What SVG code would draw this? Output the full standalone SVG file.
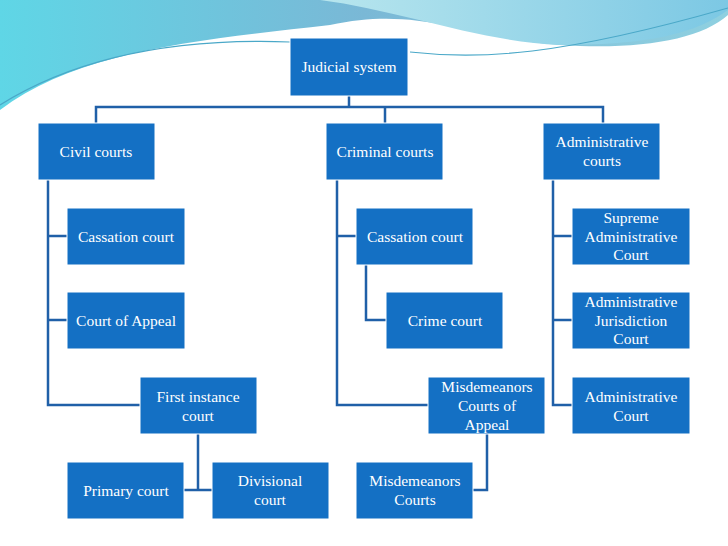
<svg xmlns="http://www.w3.org/2000/svg" width="728" height="546" viewBox="0 0 728 546">
<defs>
<linearGradient id="w1" x1="0" y1="0" x2="1" y2="0"><stop offset="0" stop-color="#5fd6e6"/><stop offset="0.5" stop-color="#7ab8d6"/><stop offset="1" stop-color="#8fd0e0"/></linearGradient>
<linearGradient id="w2" x1="0" y1="0" x2="1" y2="0"><stop offset="0" stop-color="#b8e6ee"/><stop offset="1" stop-color="#7cc8e4"/></linearGradient>
<style>
.n rect{fill:#1470c4;stroke:#fff;stroke-width:1}
.n text{font-family:"Liberation Serif",serif;font-size:15.5px;fill:#fff;text-anchor:middle}
.c path{fill:none;stroke:#2060a8;stroke-width:2.5}
</style>
</defs>
<rect width="728" height="546" fill="#ffffff"/>
<path d="M0,0 H728 V15 C700,40 640,50 560,45 C470,38 420,5 330,25 C200,40 80,50 0,110 Z" fill="url(#w1)"/>
<path d="M320,0 H728 V10 C700,30 660,45 560,45 C480,42 400,10 320,0 Z" fill="url(#w2)"/>
<path d="M0,105 C80,55 180,38 290,42 M410,52 C480,60 560,56 728,8" fill="none" stroke="#4aa8c8" stroke-width="1.2"/>
<g class="c">
<path d="M349,96 V107 M96,123 V107 H603 V123 M385,107 V123"/>
<path d="M48,180 V405 H140 M48,236 H67 M48,320 H67"/>
<path d="M198,434 V490 M184,490 H212"/>
<path d="M337,180 V405 H428 M337,236 H356 M366,265 V320 H386"/>
<path d="M487,434 V490 H473"/>
<path d="M553,180 V405 H572 M553,236 H572 M553,320 H572"/>
</g>
<g id="judicial" class="n"><rect x="290" y="38" width="118" height="58"/><text x="349" y="72">Judicial system</text></g>
<g id="civil" class="n"><rect x="38" y="123" width="117" height="57"/><text x="96" y="157">Civil courts</text></g>
<g id="criminal" class="n"><rect x="326" y="123" width="117" height="57"/><text x="385" y="157">Criminal courts</text></g>
<g id="admin" class="n"><rect x="543" y="123" width="117" height="57"/><text x="602" y="147">Administrative</text><text x="602" y="166">courts</text></g>
<g id="cass1" class="n"><rect x="67" y="208" width="118" height="57"/><text x="126" y="242">Cassation court</text></g>
<g id="appeal" class="n"><rect x="67" y="292" width="118" height="57"/><text x="126" y="326">Court of Appeal</text></g>
<g id="first" class="n"><rect x="140" y="377" width="117" height="57"/><text x="198" y="402">First instance</text><text x="198" y="421">court</text></g>
<g id="primary" class="n"><rect x="67" y="462" width="117" height="57"/><text x="126" y="496">Primary court</text></g>
<g id="divisional" class="n"><rect x="212" y="462" width="117" height="57"/><text x="270" y="486">Divisional</text><text x="270" y="505">court</text></g>
<g id="cass2" class="n"><rect x="356" y="208" width="117" height="57"/><text x="415" y="242">Cassation court</text></g>
<g id="crime" class="n"><rect x="386" y="292" width="117" height="57"/><text x="445" y="326">Crime court</text></g>
<g id="misapp" class="n"><rect x="428" y="377" width="117" height="57"/><text x="487" y="392">Misdemeanors</text><text x="487" y="411">Courts of</text><text x="487" y="430">Appeal</text></g>
<g id="mis" class="n"><rect x="356" y="462" width="117" height="57"/><text x="415" y="486">Misdemeanors</text><text x="415" y="505">Courts</text></g>
<g id="supreme" class="n"><rect x="572" y="208" width="118" height="57"/><text x="631" y="223">Supreme</text><text x="631" y="242">Administrative</text><text x="631" y="260">Court</text></g>
<g id="adjur" class="n"><rect x="572" y="292" width="118" height="57"/><text x="631" y="307">Administrative</text><text x="631" y="326">Jurisdiction</text><text x="631" y="344">Court</text></g>
<g id="adcourt" class="n"><rect x="572" y="377" width="118" height="57"/><text x="631" y="402">Administrative</text><text x="631" y="421">Court</text></g>
</svg>
